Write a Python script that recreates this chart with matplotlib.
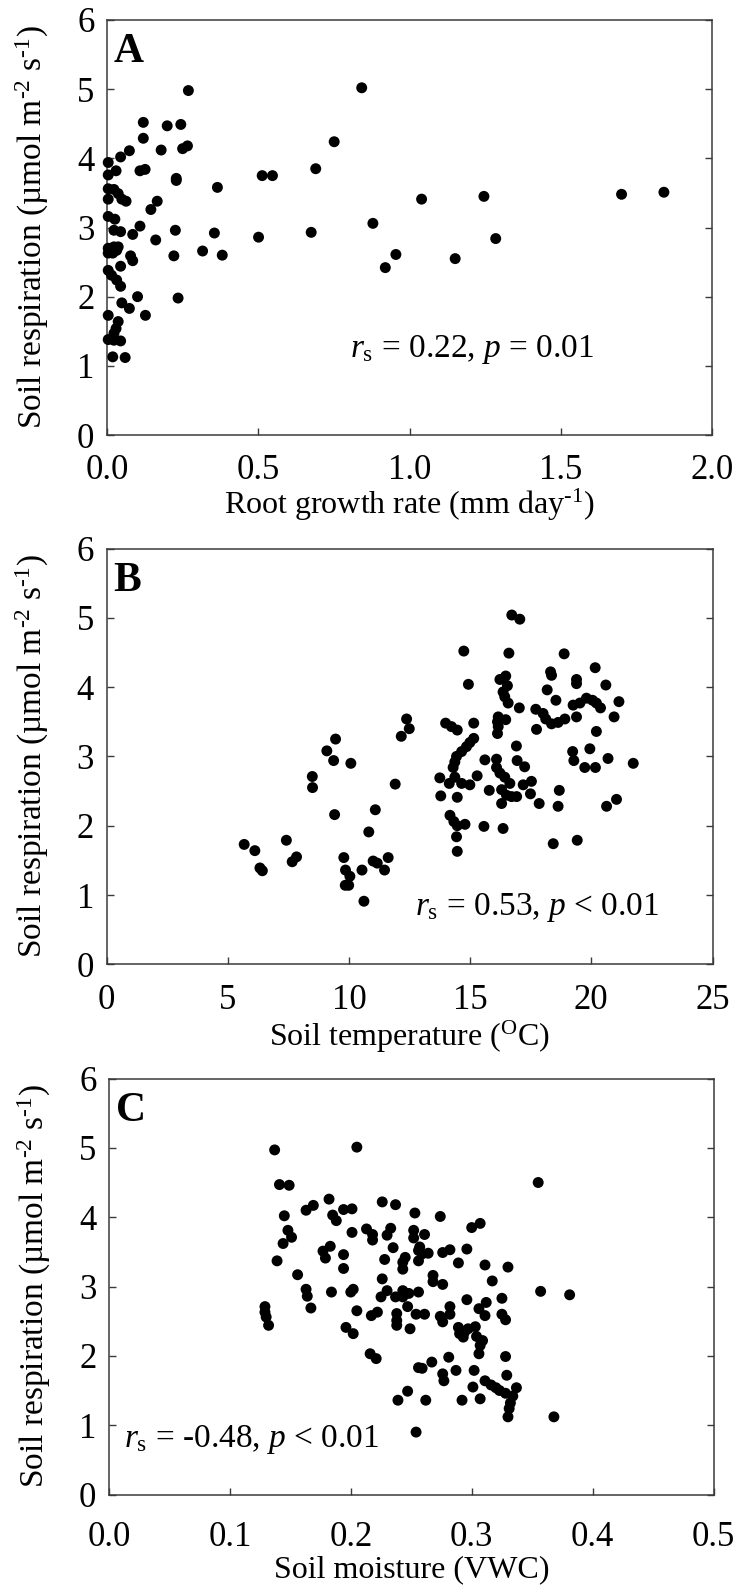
import matplotlib
matplotlib.use("Agg")
import matplotlib.pyplot as plt
import numpy as np

plt.rcParams['font.family'] = ['Liberation Serif', 'DejaVu Serif']
plt.rcParams['mathtext.fontset'] = 'custom'
plt.rcParams['mathtext.rm'] = 'Liberation Serif'
plt.rcParams['mathtext.it'] = 'Liberation Serif:italic'
plt.rcParams['mathtext.bf'] = 'Liberation Serif:bold'

# ---- Panel A: root growth rate vs soil respiration ----
root_growth = [0.269, 0.842, 0.120, 0.199, 0.244, 0.120, 0.751, 0.179, 0.074, 0.045,
               0.250, 0.266, 0.004, 0.030, 0.004, 0.109, 0.126, 0.229, 0.229, 0.513,
               0.547, 0.690, 0.365, 0.004, 0.023, 0.037, 0.004, 0.049, 0.063, 0.166,
               0.145, 0.004, 0.026, 0.109, 0.023, 0.045, 0.085, 0.161, 0.226, 0.355,
               0.501, 0.675, 0.879, 0.920, 0.004, 0.023, 0.037, 0.004, 0.019, 0.032,
               0.316, 0.381, 0.221, 0.078, 0.085, 0.045, 0.004, 0.015, 0.032, 0.045,
               0.101, 0.235, 0.049, 0.074, 0.127, 0.004, 0.037, 0.030, 0.023, 0.004,
               0.023, 0.045, 0.019, 0.060, 0.955, 1.040, 1.151, 1.246, 1.285, 1.701,
               1.841]
resp_a = [4.98, 5.02, 4.52, 4.47, 4.49, 4.29, 4.24, 4.12, 4.11, 4.02,
          4.14, 4.18, 3.94, 3.82, 3.76, 3.82, 3.84, 3.71, 3.68, 3.75,
          3.75, 3.85, 3.58, 3.56, 3.55, 3.49, 3.41, 3.41, 3.38, 3.38,
          3.26, 3.16, 3.12, 3.02, 2.96, 2.94, 2.90, 2.82, 2.96, 2.92,
          2.86, 2.93, 3.06, 2.42, 2.70, 2.72, 2.72, 2.63, 2.63, 2.67,
          2.66, 2.60, 2.59, 2.59, 2.52, 2.44, 2.38, 2.31, 2.24, 2.15,
          2.00, 1.98, 1.91, 1.83, 1.73, 1.73, 1.64, 1.54, 1.47, 1.38,
          1.37, 1.36, 1.13, 1.12, 2.61, 3.41, 2.55, 3.45, 2.84, 3.48,
          3.51]

# ---- Panel B: soil temperature vs soil respiration ----
soil_temp = [5.68, 6.12, 6.33, 6.43, 7.42, 7.66, 7.84, 8.49, 8.50, 9.09,
             9.45, 9.37, 10.08, 9.41, 9.79, 9.86, 10.04, 9.85, 9.99, 10.54,
             10.62, 10.82, 11.09, 11.00, 11.17, 11.47, 11.62, 11.91, 12.16, 12.38,
             12.49, 14.74, 14.93, 16.72, 17.05, 16.60, 16.23, 16.47, 16.54, 16.36,
             16.43, 16.57, 17.03, 18.88, 18.32, 18.36, 18.18, 18.54, 19.39, 19.39,
             20.16, 20.60, 21.14, 19.25, 19.53, 19.80, 20.05, 20.21, 20.38, 17.71,
             18.01, 18.12, 18.36, 18.63, 18.91, 19.39, 17.74, 20.94, 20.21, 19.94,
             19.23, 19.28, 19.73, 20.17, 20.69, 21.73, 18.68, 18.63, 20.63, 21.04,
             18.43, 19.42, 13.99, 14.23, 14.47, 15.15, 16.16, 16.13, 16.16, 16.13,
             16.47, 15.15, 14.99, 14.85, 14.65, 14.44, 14.37, 14.30, 16.91, 15.61,
             16.09, 16.09, 16.23, 16.43, 16.64, 16.94, 17.25, 13.75, 14.14, 14.37,
             14.65, 14.99, 15.29, 13.79, 14.47, 15.79, 16.30, 16.50, 16.30, 16.71,
             16.92, 17.19, 17.53, 17.49, 17.85, 14.17, 14.33, 14.79, 14.47, 15.57,
             16.36, 14.44, 14.47]
resp_b = [1.73, 1.64, 1.39, 1.35, 1.79, 1.48, 1.55, 2.71, 2.55, 3.08,
          3.25, 2.94, 2.90, 2.16, 1.54, 1.36, 1.27, 1.14, 1.14, 1.36,
          0.91, 1.91, 2.23, 1.49, 1.46, 1.36, 1.54, 2.60, 3.29, 3.54,
          3.40, 4.52, 4.04, 5.04, 4.98, 4.49, 4.11, 4.16, 4.02, 3.93,
          3.86, 3.77, 3.70, 4.48, 4.22, 4.17, 3.96, 3.81, 4.11, 4.05,
          4.28, 4.03, 3.79, 3.74, 3.77, 3.84, 3.81, 3.77, 3.70, 3.68,
          3.62, 3.54, 3.47, 3.49, 3.54, 3.57, 3.39, 3.57, 3.36, 3.11,
          3.07, 2.94, 2.84, 2.84, 2.97, 2.90, 2.51, 2.28, 2.28, 2.38,
          1.74, 1.79, 3.48, 3.43, 3.38, 3.48, 3.57, 3.50, 3.43, 3.33,
          3.53, 3.26, 3.20, 3.14, 3.07, 3.00, 2.92, 2.84, 3.15, 2.95,
          2.96, 2.84, 2.76, 2.70, 2.61, 2.94, 2.85, 2.69, 2.61, 2.70,
          2.61, 2.59, 2.72, 2.43, 2.41, 2.51, 2.52, 2.44, 2.32, 2.42,
          2.42, 2.59, 2.64, 2.46, 2.32, 2.15, 2.06, 2.02, 2.00, 1.99,
          1.96, 1.84, 1.63]

# ---- Panel C: soil moisture vs soil respiration ----
soil_moisture = [0.137, 0.205, 0.141, 0.149, 0.182, 0.163, 0.169, 0.226, 0.237, 0.185,
                 0.188, 0.194, 0.201, 0.253, 0.145, 0.148, 0.151, 0.144, 0.201, 0.213,
                 0.218, 0.218, 0.230, 0.233, 0.252, 0.252, 0.139, 0.183, 0.177, 0.179,
                 0.194, 0.194, 0.235, 0.228, 0.245, 0.243, 0.243, 0.256, 0.256, 0.156,
                 0.226, 0.163, 0.164, 0.167, 0.184, 0.202, 0.200, 0.230, 0.225, 0.237,
                 0.243, 0.243, 0.248, 0.256, 0.205, 0.247, 0.217, 0.222, 0.238, 0.238,
                 0.238, 0.249, 0.254, 0.129, 0.129, 0.130, 0.132, 0.196, 0.202, 0.216,
                 0.221, 0.256, 0.247, 0.239, 0.254, 0.355, 0.274, 0.261, 0.300, 0.307,
                 0.257, 0.259, 0.264, 0.276, 0.282, 0.296, 0.289, 0.311, 0.330, 0.268,
                 0.268, 0.276, 0.317, 0.261, 0.274, 0.276, 0.282, 0.282, 0.296, 0.306,
                 0.311, 0.312, 0.325, 0.325, 0.289, 0.290, 0.294, 0.293, 0.297, 0.303,
                 0.304, 0.309, 0.307, 0.306, 0.328, 0.259, 0.267, 0.281, 0.276, 0.277,
                 0.287, 0.302, 0.328, 0.329, 0.311, 0.316, 0.320, 0.323, 0.328, 0.334,
                 0.337, 0.301, 0.307, 0.292, 0.262, 0.332, 0.331, 0.330, 0.368, 0.357,
                 0.381]
resp_c = [4.97, 5.01, 4.47, 4.46, 4.26, 4.10, 4.17, 4.22, 4.18, 4.03,
          3.95, 4.11, 4.12, 4.06, 4.02, 3.81, 3.71, 3.62, 3.78, 3.83,
          3.75, 3.67, 3.74, 3.84, 3.81, 3.70, 3.37, 3.58, 3.51, 3.41,
          3.46, 3.26, 3.56, 3.39, 3.42, 3.35, 3.25, 3.52, 3.37, 3.17,
          3.11, 2.96, 2.86, 2.69, 2.92, 2.96, 2.92, 2.94, 2.85, 2.85,
          2.94, 2.85, 2.90, 2.92, 2.65, 2.71, 2.58, 2.63, 2.61, 2.51,
          2.44, 2.39, 2.60, 2.71, 2.63, 2.56, 2.44, 2.41, 2.32, 2.03,
          1.96, 1.83, 1.49, 1.36, 0.90, 4.50, 4.01, 3.75, 3.85, 3.91,
          3.57, 3.47, 3.48, 3.49, 3.53, 3.54, 3.34, 3.31, 3.28, 3.16,
          3.07, 3.03, 3.08, 2.60, 2.57, 2.49, 2.71, 2.60, 2.81, 2.68,
          2.58, 2.77, 2.83, 2.60, 2.41, 2.32, 2.34, 2.27, 2.39, 2.42,
          2.28, 2.22, 2.15, 2.03, 2.52, 1.82, 1.91, 1.98, 1.74, 1.64,
          1.79, 1.79, 1.99, 1.72, 1.64, 1.58, 1.54, 1.50, 1.46, 1.42,
          1.54, 1.55, 1.38, 1.36, 1.36, 1.32, 1.24, 1.12, 1.12, 2.93,
          2.88]

y_ticks = [0, 1, 2, 3, 4, 5, 6]
ylabel = r'Soil respiration (µmol m$^{\text{-2}}$ s$^{\text{-1}}$)'

panels = [
    dict(letter='A', x=root_growth, y=resp_a, xlim=(0, 2.0),
         xticks=[0.0, 0.5, 1.0, 1.5, 2.0], xfmt='{:.1f}',
         xlabel=r'Root growth rate (mm day$^{\text{-1}}$)',
         stat=r'$r_{\mathrm{s}}$ = 0.22, $p$ = 0.01', stat_pos=(0.402, 0.188),
         tick_pad=14, xlabel_y=-0.124,
         rect=[107 / 736, 1 - 435 / 1588, 605 / 736, 415 / 1588]),
    dict(letter='B', x=soil_temp, y=resp_b, xlim=(0, 25),
         xticks=[0, 5, 10, 15, 20, 25], xfmt='{:d}',
         xlabel=r'Soil temperature ($^{\mathrm{O}}$C)',
         stat=r'$r_{\mathrm{s}}$ = 0.53, $p$ < 0.01', stat_pos=(0.509, 0.119),
         tick_pad=14, xlabel_y=-0.13,
         rect=[106.5 / 736, 1 - 964.3 / 1588, 606 / 736, 415.8 / 1588]),
    dict(letter='C', x=soil_moisture, y=resp_c, xlim=(0, 0.5),
         xticks=[0.0, 0.1, 0.2, 0.3, 0.4, 0.5], xfmt='{:.1f}',
         xlabel='Soil moisture (VWC)',
         stat=r'$r_{\mathrm{s}}$ = -0.48, $p$ < 0.01', stat_pos=(0.024, 0.115),
         tick_pad=19, xlabel_y=-0.145,
         rect=[109 / 736, 1 - 1494.5 / 1588, 604.5 / 736, 416 / 1588]),
]

fig = plt.figure(figsize=(7.36, 15.88), dpi=100)
spine_color = '#3a3a3a'

for p in panels:
    ax = fig.add_axes(p['rect'])
    ax.scatter(p['x'], p['y'], s=62, color='black', edgecolors='none',
               zorder=3, clip_on=False)
    ax.set_xlim(*p['xlim'])
    ax.set_ylim(0, 6)
    ax.set_xticks(p['xticks'])
    ax.set_xticklabels([p['xfmt'].format(v) for v in p['xticks']])
    ax.set_yticks(y_ticks)
    ax.tick_params(axis='both', direction='in', length=5, width=1.0,
                   color=spine_color, labelsize=25)
    ax.tick_params(axis='x', pad=p['tick_pad'], top=False)
    ax.tick_params(axis='y', pad=9, right=True, labelright=False)
    for s in ax.spines.values():
        s.set_color(spine_color)
        s.set_linewidth(1.1)
    ax.set_ylabel(ylabel, fontsize=24)
    ax.yaxis.set_label_coords(-0.092, 0.5)
    ax.set_xlabel(p['xlabel'], fontsize=23)
    ax.xaxis.set_label_coords(0.5, p['xlabel_y'])
    ax.text(0.011, 0.898, p['letter'], transform=ax.transAxes,
            fontsize=30, fontweight='bold', ha='left', va='baseline')
    ax.text(p['stat_pos'][0], p['stat_pos'][1], p['stat'],
            transform=ax.transAxes, fontsize=24, ha='left', va='baseline')

fig.savefig('out.png', dpi=100)
